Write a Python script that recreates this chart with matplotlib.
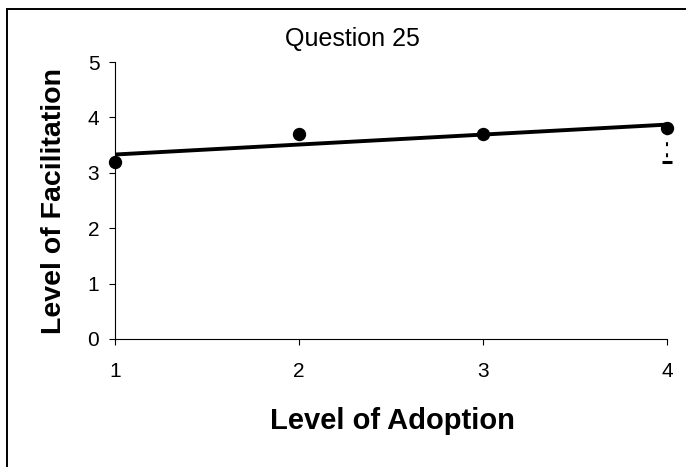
import numpy as np
import matplotlib
matplotlib.use('Agg')
import matplotlib.pyplot as plt
from matplotlib.patches import Rectangle

plt.rcParams['font.family'] = ['Liberation Sans', 'DejaVu Sans']
plt.rcParams['xtick.labelsize'] = 15
plt.rcParams['ytick.labelsize'] = 15

# Data
adoption = [1, 2, 3, 4]
facilitation = [3.2, 3.7, 3.7, 3.8]
err_minus = [0, 0, 0, 0.6]
x_ticks = [1, 2, 3, 4]
y_ticks = [0, 1, 2, 3, 4, 5]

fig = plt.figure(figsize=(6.86, 4.67), dpi=100)
ax = fig.add_axes([115 / 686, 1 - 339 / 467, 552 / 686, 277 / 467])

# linear trend line
slope, intercept = np.polyfit(adoption, facilitation, 1)
xs = np.array([adoption[0], adoption[-1]])
ax.plot(xs, slope * xs + intercept, color='black', lw=2.8, solid_capstyle='butt', zorder=2)

ax.plot(adoption, facilitation, 'o', color='black', markersize=8.6, zorder=3, clip_on=False)

# error bar (minus only), drawn only where there is one
for x, y, e in zip(adoption, facilitation, err_minus):
    if e > 0:
        eb = ax.errorbar([x], [y], yerr=[[e], [0]], fmt='none', ecolor='black',
                         elinewidth=1.5, capsize=3.4, capthick=2.2, zorder=1)
        eb[2][0].set_linestyle((3.0, (1.9, 3.4)))
        for art in list(eb[1]) + list(eb[2]):
            art.set_clip_on(False)

ax.set_xlim(1, 4)
ax.set_ylim(0, 5)
ax.set_xticks(x_ticks)
ax.set_yticks(y_ticks)
ax.tick_params(axis='both', direction='out', length=4.3, width=0.8, colors='black')
ax.tick_params(axis='x', pad=12)
ax.tick_params(axis='y', pad=7)

for side in ['top', 'right']:
    ax.spines[side].set_visible(False)
for side in ['left', 'bottom']:
    ax.spines[side].set_linewidth(0.8)

ax.set_xlabel('Level of Adoption', fontsize=21, fontweight='bold', va='center')
ax.xaxis.set_label_coords(0.503, -0.296)
ax.set_ylabel('Level of Facilitation', fontsize=20.5, fontweight='bold', va='center')
ax.yaxis.set_label_coords(-0.111, 0.5)

fig.text(352 / 686, 1 - 39 / 467, 'Question 25', fontsize=18, ha='center', va='center')

# chart border (right and bottom edges fall outside the image)
fig.add_artist(Rectangle((7 / 686, -0.1), 1.2, 1 - 9 / 467 + 0.1, transform=fig.transFigure,
                         fill=False, edgecolor='black', lw=1.4, clip_on=False))

fig.savefig('out.png', dpi=100)
